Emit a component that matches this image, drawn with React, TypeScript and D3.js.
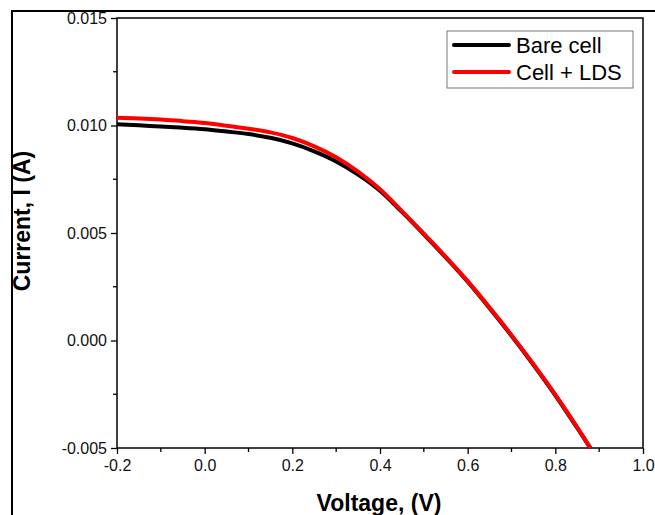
import { useRef, useEffect } from 'react';
import * as d3 from 'd3';

const voltage = [-0.2, -0.15, -0.1, -0.05, 0, 0.05, 0.1, 0.15, 0.2, 0.25, 0.3, 0.35, 0.4, 0.45, 0.5, 0.55, 0.6, 0.65, 0.7, 0.75, 0.8, 0.85, 0.88];
const bareCell = [0.01006, 0.01001, 0.00995, 0.0099, 0.00983, 0.00972, 0.0096, 0.00943, 0.00917, 0.0088, 0.00833, 0.00772, 0.00697, 0.00598, 0.00494, 0.00386, 0.00273, 0.0015, 0.00022, -0.00113, -0.00255, -0.00407, -0.005];
const cellLds = [0.01036, 0.01033, 0.01028, 0.0102, 0.01012, 0.00999, 0.00985, 0.00968, 0.00942, 0.00903, 0.00852, 0.00785, 0.00703, 0.00602, 0.00497, 0.00389, 0.00276, 0.00153, 0.00025, -0.0011, -0.00252, -0.00404, -0.005];

const seriesNames = ['Bare cell', 'Cell + LDS'];
const seriesColors = ['#000000', '#ff0000'];
const xTicks = [-0.2, 0.0, 0.2, 0.4, 0.6, 0.8, 1.0];
const yTicks = [-0.005, 0.0, 0.005, 0.01, 0.015];

const W = 655;
const H = 515;
const margin = { top: 18, right: 12, bottom: 67, left: 117 };
const font = 'Arial, "Liberation Sans", sans-serif';

export default function App() {
  const svgRef = useRef<SVGSVGElement>(null);

  useEffect(() => {
    if (!svgRef.current) return;
    const svg = d3.select(svgRef.current);
    svg.selectAll('*').remove();

    const innerW = W - margin.left - margin.right;
    const innerH = H - margin.top - margin.bottom;

    const x = d3.scaleLinear().domain([-0.2, 1.0]).range([0, innerW]);
    const y = d3.scaleLinear().domain([-0.005, 0.015]).range([innerH, 0]);

    // outer frame of the figure
    svg.append('rect')
      .attr('x', 12).attr('y', 11)
      .attr('width', 700).attr('height', 600)
      .attr('fill', 'none').attr('stroke', '#000').attr('stroke-width', 2);

    const g = svg.append('g').attr('transform', `translate(${margin.left},${margin.top})`);

    const clipId = 'plot-clip';
    g.append('clipPath').attr('id', clipId)
      .append('rect').attr('width', innerW).attr('height', innerH + 2).attr('y', -1);

    const fmt = (spec: string) => (d: d3.NumberValue) => d3.format(spec)(d as number).replace('−', '-');

    // minor ticks
    const xMinor = d3.range(-0.1, 1.0, 0.2);
    const yMinor = d3.range(-0.0025, 0.015, 0.005);

    const xAxis = g.append('g').attr('transform', `translate(0,${innerH})`)
      .call(d3.axisBottom(x).tickValues(xTicks).tickSize(6).tickPadding(6).tickFormat(fmt('.1f')));
    xAxis.select('.domain').remove();
    xAxis.selectAll('text').attr('font-size', 16).attr('font-family', font).attr('fill', '#111');
    xAxis.selectAll('line').attr('stroke-width', 1.3);
    g.append('g').attr('transform', `translate(0,${innerH})`)
      .selectAll('line').data(xMinor).join('line')
      .attr('x1', (d) => x(d)).attr('x2', (d) => x(d))
      .attr('y1', 0).attr('y2', 4).attr('stroke', '#000').attr('stroke-width', 1.3);

    const yAxis = g.append('g')
      .call(d3.axisLeft(y).tickValues(yTicks).tickSize(6).tickPadding(4).tickFormat(fmt('.3f')));
    yAxis.select('.domain').remove();
    yAxis.selectAll('text').attr('font-size', 16).attr('font-family', font).attr('fill', '#111');
    yAxis.selectAll('line').attr('stroke-width', 1.3);
    g.append('g')
      .selectAll('line').data(yMinor).join('line')
      .attr('x1', 0).attr('x2', -4)
      .attr('y1', (d) => y(d)).attr('y2', (d) => y(d)).attr('stroke', '#000').attr('stroke-width', 1.3);

    // plot box
    g.append('rect')
      .attr('width', innerW).attr('height', innerH)
      .attr('fill', 'none').attr('stroke', '#000').attr('stroke-width', 1.5);

    const line = d3.line<number>()
      .x((_, i) => x(voltage[i]))
      .y((d) => y(d))
      .curve(d3.curveMonotoneX);

    [bareCell, cellLds].forEach((s, i) => {
      g.append('path')
        .datum(s)
        .attr('clip-path', `url(#${clipId})`)
        .attr('fill', 'none')
        .attr('stroke', seriesColors[i])
        .attr('stroke-width', 4)
        .attr('d', line);
    });

    // legend
    const legend = svg.append('g').attr('transform', 'translate(447,31)');
    legend.append('rect')
      .attr('width', 186).attr('height', 57)
      .attr('fill', '#fff').attr('stroke', '#777').attr('stroke-width', 1);
    seriesNames.forEach((name, i) => {
      const row = legend.append('g').attr('transform', `translate(0,${14 + i * 27})`);
      row.append('line')
        .attr('x1', 7).attr('x2', 62).attr('y1', 0).attr('y2', 0)
        .attr('stroke', seriesColors[i]).attr('stroke-width', 4).attr('stroke-linecap', 'round');
      row.append('text')
        .attr('x', 69).attr('y', 8)
        .attr('font-size', 22).attr('font-family', font).attr('fill', '#000')
        .text(name);
    });

    // axis titles
    svg.append('text')
      .attr('x', margin.left + innerW / 2 - 1).attr('y', 511)
      .attr('text-anchor', 'middle')
      .attr('font-size', 23).attr('font-weight', 'bold').attr('font-family', font)
      .text('Voltage, (V)');
    svg.append('text')
      .attr('transform', `translate(30,${margin.top + innerH / 2 - 12}) rotate(-90)`)
      .attr('text-anchor', 'middle')
      .attr('font-size', 23).attr('font-weight', 'bold').attr('font-family', font)
      .text('Current, I (A)');
  }, []);

  return (
    <div style={{ position: 'absolute', left: 0, top: 0 }}>
      <svg ref={svgRef} width={W} height={H} style={{ display: 'block', background: '#fff' }} />
    </div>
  );
}
